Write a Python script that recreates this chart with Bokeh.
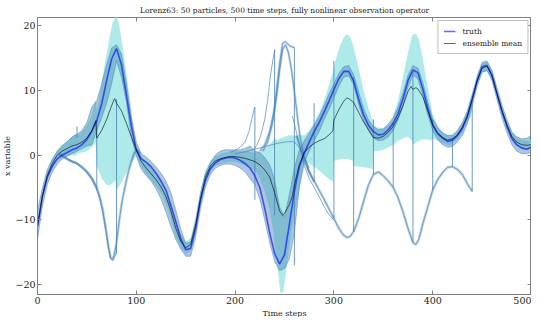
from bokeh.plotting import figure
from bokeh.models import Range1d, LinearAxis, Legend, LegendItem, FixedTicker, Title
from bokeh.embed import file_html
from bokeh.resources import INLINE

# ---------------- data ----------------
steps = list(range(0, 501, 5))

truth = [-11.0, -6.4, -3.4, -1.7, -0.6, 0.0, 0.4, 0.8, 1.1, 1.6,
         2.4, 3.7, 5.3, 7.9, 11.5, 14.8, 16.4, 13.9, 9.2, 4.5,
         0.8, -0.6, -1.1, -1.8, -2.8, -4.0, -5.4, -7.8, -10.3, -12.9,
         -14.6, -14.4, -11.4, -6.9, -3.9, -2.1, -1.2, -0.7, -0.45, -0.35,
         -0.45, -0.8, -1.3, -2.0, -3.2, -5.0, -8.2, -12.0, -15.2, -16.8,
         -15.4, -10.6, -5.6, -1.8, 0.3, 2.0, 3.6, 5.0, 6.6, 8.3,
         10.1, 11.8, 12.9, 12.9, 11.4, 8.6, 6.2, 4.6, 3.6, 3.1,
         3.2, 3.9, 4.9, 6.4, 8.7, 11.5, 13.1, 12.7, 10.2, 7.2,
         4.7, 3.3, 2.6, 2.1, 2.3, 3.0, 4.1, 5.9, 8.6, 11.5,
         13.6, 13.8, 12.3, 9.5, 6.8, 4.5, 2.6, 1.6, 1.1, 0.9,
         1.2]

# envelope of the dense particle bundle around the truth
bundle_hi = [-8.6, -5.0, -2.2, -0.6, 0.6, 1.4, 2.0, 2.8, 3.2, 3.8,
             5.0, 7.4, 8.4, 11.0, 14.0, 16.5, 17.0, 15.6, 11.0, 5.8,
             2.0, 0.2, -0.3, -1.0, -1.8, -2.8, -4.0, -5.8, -8.5, -11.4,
             -13.6, -13.4, -10.2, -5.8, -2.8, -1.2, 0.0, 0.6, 0.8, 0.8,
             0.8, 0.8, 1.0, 1.4, 0.6, 0.4, -0.4, -1.5, -3.8, -8.0,
             -9.5, -6.0, -2.0, 0.8, 2.2, 3.4, 4.6, 6.0, 7.6, 9.4,
             11.0, 12.6, 13.6, 13.8, 12.4, 9.8, 7.2, 5.4, 4.4, 3.9,
             4.0, 4.8, 5.8, 7.4, 9.6, 12.3, 13.8, 13.4, 11.2, 8.2,
             5.6, 4.2, 3.4, 3.0, 3.1, 3.8, 5.0, 6.8, 9.4, 12.2,
             14.3, 14.5, 13.1, 10.4, 7.8, 5.5, 3.6, 2.8, 2.5, 2.6,
             3.0]
bundle_lo = [-13.0, -7.9, -4.5, -2.6, -1.4, -0.6, -0.2, 0.2, 0.6, 1.0,
             1.4, 1.6, 3.8, 5.8, 8.0, 11.0, 14.5, 12.0, 8.2, 2.8,
             -0.2, -2.2, -3.2, -4.0, -5.2, -6.8, -8.8, -11.0, -13.0, -14.5,
             -15.6, -15.6, -12.6, -8.2, -4.9, -3.0, -2.0, -1.6, -1.4, -1.4,
             -1.6, -2.0, -2.6, -3.6, -4.6, -6.8, -10.0, -13.5, -16.4, -17.8,
             -17.5, -16.0, -12.0, -5.0, -1.2, 0.6, 2.2, 3.6, 5.4, 7.0,
             8.8, 10.6, 12.0, 12.2, 10.8, 7.8, 5.4, 3.8, 2.6, 2.2,
             2.3, 2.8, 3.8, 5.4, 7.6, 10.5, 12.3, 11.8, 9.2, 6.2,
             3.8, 2.4, 1.6, 1.2, 1.3, 2.0, 3.0, 4.8, 7.6, 10.6,
             12.8, 13.0, 11.5, 8.6, 5.8, 3.5, 1.6, 0.6, 0.2, 0.2,
             0.4]

mean_t = [0, 5, 10, 15, 20, 25, 30, 35, 40, 45, 50, 55, 59, 60, 65, 70, 75, 78, 80,
          85, 90, 95, 100, 105, 110, 115, 120, 125, 130, 135, 140, 145, 150, 155, 160,
          165, 170, 175, 180, 185, 190, 195, 200, 205, 210, 215, 220, 225, 230, 235, 240,
          245, 248, 250, 255, 258, 260, 265, 270, 275, 280, 285, 290, 295, 299, 300, 305,
          310, 313, 315, 320, 325, 330, 335, 340, 345, 350, 355, 360, 365, 370, 375, 378,
          380, 383, 385, 390, 395, 400, 405, 410, 415, 420, 425, 430, 435, 440, 445, 450,
          455, 460, 465, 470, 475, 480, 485, 490, 495, 500]
mean_x = [-11.0, -6.2, -3.1, -1.3, 0.0, 0.6, 1.0, 1.4, 1.6, 2.0, 2.6, 3.7, 5.3, 2.6, 3.8, 5.5, 7.6, 8.7, 8.0,
          6.8, 4.9, 2.8, 0.8, -1.0, -2.0, -2.9, -3.8, -4.9, -6.4, -8.6, -11.3, -13.3, -14.3, -13.8, -10.8,
          -6.8, -3.4, -1.7, -0.9, -0.6, -0.4, -0.2, -0.25, -0.35, -0.5, -0.75, -1.0, -1.5, -2.3, -3.4, -5.8,
          -8.6, -9.3, -9.0, -7.6, -6.3, -4.6, -1.5, 0.4, 1.2, 1.8, 2.2, 2.5, 3.1, 3.7, 5.4, 7.0,
          8.3, 8.8, 8.7, 8.1, 6.6, 5.1, 3.9, 2.7, 2.6, 2.9, 3.5, 4.4, 5.8, 7.6, 9.8, 10.6,
          10.1, 10.4, 10.2, 9.0, 6.8, 4.6, 3.4, 2.7, 2.3, 2.5, 3.1, 4.3, 6.0, 8.6, 11.4, 13.4,
          13.7, 12.2, 9.5, 6.9, 4.7, 2.9, 2.0, 1.6, 1.5, 1.6]

band_t = [0, 5, 10, 15, 20, 25, 30, 35, 39, 40, 45, 50, 55, 59, 60, 65, 70, 73, 76, 79, 80, 82,
          85, 90, 95, 99, 100, 105, 110, 115, 120, 125, 130, 135, 140, 145, 150, 155, 160, 165,
          170, 175, 180, 185, 190, 195, 200, 205, 210, 215, 219, 220, 225, 230, 235, 239, 240,
          243, 246, 249, 252, 255, 259, 260, 265, 270, 275, 280, 285, 290, 295, 299, 300, 305,
          310, 313, 316, 319, 320, 325, 330, 335, 339, 340, 345, 350, 355, 359, 360, 365, 370,
          375, 379, 380, 383, 386, 390, 395, 399, 400, 405, 410, 415, 419, 420, 425, 430, 435,
          439, 440, 445, 450, 455, 460, 465, 470, 475, 480, 485, 490, 495, 500]
band_hi = [-10.4, -5.6, -2.5, -0.6, 0.8, 1.6, 2.2, 2.8, 3.3, 3.0, 3.6, 4.6, 6.2, 8.6, 6.8, 11.2, 15.6, 18.2, 20.4, 21.3, 21.3, 20.6,
           17.8, 12.6, 6.8, 2.0, 1.6, -0.2, -1.0, -1.9, -2.8, -3.9, -5.3, -7.4, -10.0, -12.2, -13.3, -12.8, -9.6, -5.6,
           -2.4, -0.9, -0.2, 0.2, 0.4, 0.6, 0.6, 0.6, 0.6, 0.5, 0.4, 0.3, 0.6, 1.0, 1.7, 2.3, 2.5,
           2.3, 2.6, 2.8, 2.9, 3.1, 3.0, 2.8, 3.2, 3.0, 3.8, 5.0, 6.4, 8.4, 10.8, 12.8, 13.6, 16.4,
           18.1, 18.6, 18.3, 17.2, 16.6, 13.4, 10.0, 7.2, 5.4, 4.6, 4.2, 4.2, 4.6, 5.3, 6.0, 8.5, 12.1,
           15.8, 18.3, 18.6, 18.7, 17.8, 14.8, 10.5, 7.0, 6.2, 4.6, 3.6, 3.1, 3.1, 3.0, 3.7, 5.0, 6.8,
           9.0, 9.3, 12.1, 14.1, 14.4, 12.9, 10.2, 7.6, 5.4, 3.6, 2.7, 2.3, 2.2, 2.3]
band_lo = [-11.6, -6.8, -3.7, -2.0, -0.8, -0.4, -0.2, 0.0, -0.1, 0.2, 0.4, 0.6, 1.2, 2.0, -1.6, -3.6, -4.6, -4.7, -4.3, -3.9, -5.3, -5.0,
           -4.2, -2.8, -1.2, -0.4, 0.0, -1.8, -3.0, -3.9, -4.8, -5.9, -7.5, -9.8, -12.6, -14.4, -15.3, -14.8, -12.0, -8.0,
           -4.4, -2.5, -1.6, -1.4, -1.2, -1.0, -1.1, -1.3, -1.6, -2.0, -2.4, -2.3, -3.6, -5.6, -8.5, -12.0, -14.1,
           -17.4, -21.4, -21.0, -17.5, -14.0, -10.0, -9.0, -5.5, -0.9, -1.3, -1.8, -2.4, -3.1, -3.7, -4.1, -0.9, -0.7,
           -0.6, -0.6, -0.7, -0.9, -1.6, -1.8, -1.9, -2.0, -2.2, 0.6, 0.6, 0.8, 1.2, 1.4, 1.6, 2.2, 2.6,
           2.8, 2.2, 1.6, 1.9, 2.2, 2.4, 2.4, 2.2, 2.6, 2.2, 1.8, 1.5, 1.6, 1.9, 2.4, 3.4, 5.0,
           6.0, 7.8, 10.6, 12.6, 13.0, 11.5, 8.8, 6.2, 4.0, 2.2, 1.3, 0.9, 0.8, 0.9]

# individual particle trajectories that leave the main bundle
lobe_a_t = [22, 26, 30, 35, 40, 45, 50, 55, 59.9]
lobe_a_x = [0.2, 0.0, -0.5, -0.9, -1.2, -1.7, -2.4, -3.4, -5.0]
lobe_b_t = [22, 26, 30, 35, 40, 45, 50, 55, 60, 63, 66, 69, 72, 74, 76, 78, 79.9]
lobe_b_x = [0.0, -0.3, -0.7, -1.1, -1.4, -2.0, -2.8, -3.8, -5.4, -6.8, -8.8, -11.6, -14.6, -16.0, -16.3, -15.8, -15.0]
lobe_c_t = [22, 26, 30, 35, 40, 45, 50, 55, 60, 63, 66, 69, 72, 74, 76, 78, 80, 83, 86, 89, 92, 95, 98, 101, 104]
lobe_c_x = [0.1, -0.2, -0.6, -1.0, -1.3, -1.9, -2.6, -3.6, -5.0, -6.4, -8.4, -11.2, -14.2, -15.8, -16.1, -15.2, -13.4,
            -9.8, -6.8, -4.6, -2.6, -1.0, 0.4, 0.8, 0.2]
spur1_t = [195, 200, 205, 210, 214, 217, 219.9]
spur1_x = [0.4, 0.7, 1.2, 2.0, 3.6, 5.6, 7.4]
spur2_t = [218, 222, 226, 230, 233, 236, 239.9]
spur2_x = [0.8, 1.5, 3.0, 5.5, 8.5, 12.5, 16.2]
spur3_t = [225, 230, 235, 239, 242, 245, 248, 251, 254, 257, 259.9]
spur3_x = [0.6, 1.6, 3.6, 6.5, 10.0, 14.0, 17.2, 17.5, 17.0, 16.7, 16.6]
spur4_t = [228, 233, 238, 242, 245, 248, 251, 254, 257, 260, 263, 266, 270, 275, 280]
spur4_x = [0.6, 2.0, 5.0, 9.0, 13.0, 16.2, 17.0, 15.8, 13.2, 9.8, 6.0, 2.6, -0.4, -2.6, -4.2]
drift_t = [200, 210, 220, 230, 240, 250, 258, 263, 267, 271, 275]
drift_x = [0.2, 0.5, 0.9, 1.3, 1.7, 2.0, 2.1, 1.6, 0.6, -0.6, -2.0]
lobe2_t = [262, 266, 270, 275, 280, 285, 290, 295, 300, 305, 310, 313, 316, 320, 325, 330, 335, 340, 345,
           350, 355, 360, 365, 370, 375, 380, 383, 386, 390, 395, 400, 405, 410, 415, 420, 425, 430, 435, 439.9]
lobe2_x = [3.0, 1.2, -0.8, -2.6, -4.0, -5.4, -6.8, -8.3, -9.8, -11.3, -12.4, -12.7, -12.6, -11.8, -9.8, -7.2, -4.6, -3.0, -2.6,
           -3.2, -4.0, -5.0, -6.6, -8.8, -11.3, -13.5, -13.8, -13.0, -10.6, -8.0, -5.4, -3.8, -2.7, -1.9, -1.8, -2.2, -3.0, -4.4, -5.6]
lobe2b_t = [258, 262, 266, 270, 275, 280, 285, 290, 295, 299.9]
lobe2b_x = [6.0, 3.6, 1.0, -1.6, -3.6, -5.0, -6.4, -7.9, -9.2, -10.0]

# resampling jumps (every 20 steps)
jump_t = [40, 60, 80, 220, 240, 260, 280, 300, 320, 340, 360, 380, 400, 420, 440]
jump_lo = [2.7, -5.4, -15.2, -6.9, -9.3, -17.0, -4.0, -9.8, -11.8, -3.0, -5.0, -13.5, -5.4, -1.8, -5.6]
jump_hi = [4.4, 5.4, 8.6, 7.4, 16.3, 16.6, 8.0, 14.5, 12.0, 5.5, 5.0, 12.8, 5.5, 2.6, 8.4]

x_ticks = [0, 100, 200, 300, 400, 500]
y_ticks = [-20, -10, 0, 10, 20]

# ---------------- styling ----------------
SERIF = "DejaVu Serif"
CYAN = "#aeeaea"
PART = "#4682b4"
FRAME = "#808080"
TXT = "#222222"

p = figure(width=531, height=317, output_backend="svg", toolbar_location=None,
           x_range=Range1d(0, 500), y_range=Range1d(-21.5, 21.2),
           title="Lorenz63: 50 particles, 500 time steps, fully nonlinear observation operator",
           min_border_left=0, min_border_right=0, min_border_top=4, min_border_bottom=0)
p.title.align = "center"
p.title.text_font = SERIF
p.title.text_font_size = "7.5px"
p.title.text_font_style = "normal"
p.title.text_color = TXT
p.title.standoff = 6
p.xgrid.visible = False
p.ygrid.visible = False
p.outline_line_color = FRAME
p.background_fill_color = "white"

for ax, ticks in ((p.xaxis[0], x_ticks), (p.yaxis[0], y_ticks)):
    ax.ticker = FixedTicker(ticks=ticks)
    ax.major_tick_in = 4
    ax.major_tick_out = 0
    ax.minor_tick_line_color = None
    ax.axis_line_color = FRAME
    ax.major_tick_line_color = FRAME
    ax.major_label_text_font = SERIF
    ax.major_label_text_font_size = "9.5px"
    ax.major_label_text_color = TXT
    ax.major_label_standoff = 2
    ax.axis_label_text_font = SERIF
    ax.axis_label_text_font_size = "8px"
    ax.axis_label_text_font_style = "normal"
    ax.axis_label_text_color = TXT
    ax.axis_label_standoff = 0
p.yaxis.axis_label = "x variable"
p.yaxis.major_label_overrides = {-20: "\u221220", -10: "\u221210"}

# tick marks on the top and right frame edges (no labels)
for loc, ticks in (("right", y_ticks), ("above", x_ticks)):
    ax = LinearAxis(ticker=FixedTicker(ticks=ticks), major_tick_in=4, major_tick_out=0,
                    minor_tick_line_color=None, axis_line_color=None,
                    major_tick_line_color=FRAME, major_label_text_font_size="0px",
                    major_label_text_color=None, major_label_standoff=0)
    p.add_layout(ax, loc)

# x-axis title as a compact panel just under the tick labels
p.add_layout(Title(text="Time steps", align="center", text_font=SERIF, text_font_size="8px",
                   text_font_style="normal", text_color=TXT, standoff=0, offset=0), "below")

# ---------------- glyphs ----------------
p.varea(x=band_t, y1=band_lo, y2=band_hi, fill_color=CYAN, fill_alpha=1.0)

p.varea(x=steps, y1=bundle_lo, y2=bundle_hi, fill_color=PART, fill_alpha=0.45)
p.line(steps, bundle_hi, line_color=PART, line_alpha=0.6, line_width=0.8)
p.line(steps, bundle_lo, line_color=PART, line_alpha=0.6, line_width=0.8)

p.line(lobe_c_t, lobe_c_x, line_color=PART, line_alpha=0.35, line_width=2.6)
p.line(lobe2_t, lobe2_x, line_color=PART, line_alpha=0.35, line_width=2.6)
p.line(spur3_t, spur3_x, line_color=PART, line_alpha=0.3, line_width=2.4)
p.line(spur4_t, spur4_x, line_color=PART, line_alpha=0.3, line_width=2.4)
paths_t = [lobe_a_t, lobe_b_t, lobe_c_t, spur1_t, spur2_t, spur3_t, spur4_t, drift_t, lobe2_t, lobe2b_t]
paths_x = [lobe_a_x, lobe_b_x, lobe_c_x, spur1_x, spur2_x, spur3_x, spur4_x, drift_x, lobe2_x, lobe2b_x]
p.multi_line(xs=paths_t, ys=paths_x, line_color=PART, line_alpha=0.75, line_width=0.9)
p.segment(x0=jump_t, y0=jump_lo, x1=jump_t, y1=jump_hi, line_color=PART, line_alpha=0.8, line_width=1.0)

r_truth = p.line(steps, truth, line_color="blue", line_alpha=0.6, line_width=1.6)
r_mean = p.line(mean_t, mean_x, line_color="black", line_alpha=0.6, line_width=1.0)

legend = Legend(items=[LegendItem(label="truth", renderers=[r_truth]),
                       LegendItem(label="ensemble mean", renderers=[r_mean])],
                location="top_right")
legend.label_text_font = SERIF
legend.label_text_font_size = "7.5px"
legend.label_text_color = TXT
legend.border_line_color = FRAME
legend.border_line_width = 1
legend.background_fill_alpha = 1.0
legend.glyph_width = 12
legend.glyph_height = 10
legend.label_height = 10
legend.label_standoff = 7
legend.padding = 5
legend.spacing = 2
legend.margin = 3
p.add_layout(legend)

open("out.html", "w").write(file_html(p, INLINE))
